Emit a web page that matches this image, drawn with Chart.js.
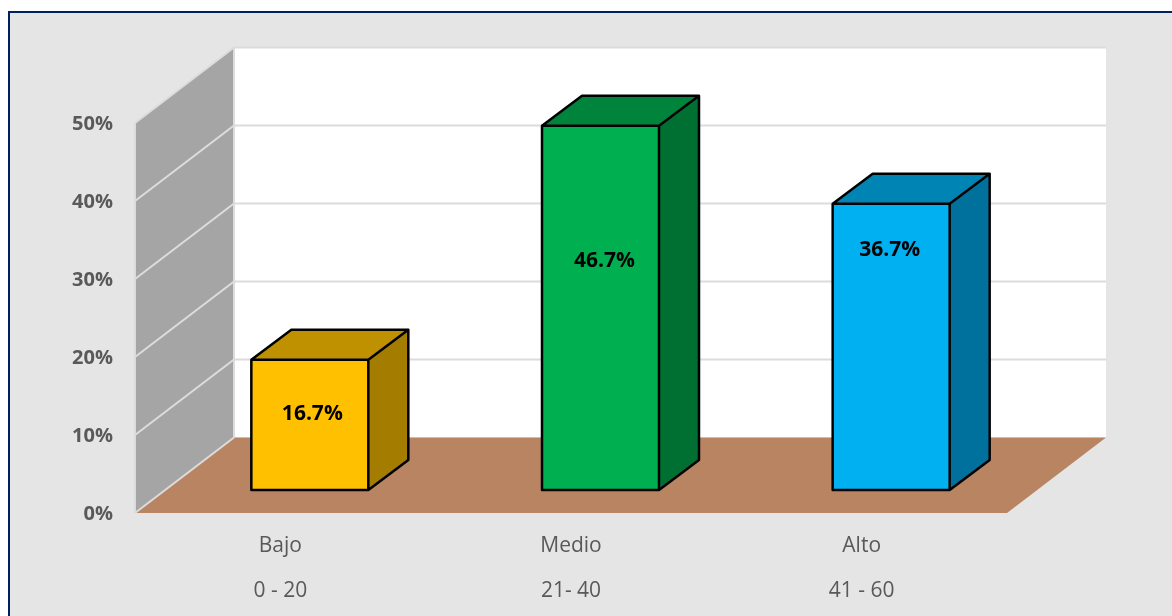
<!DOCTYPE html>
<html>
<head>
<meta charset="utf-8">
<script src="https://cdn.jsdelivr.net/npm/chart.js@4"></script>
<style>
  html, body { margin: 0; padding: 0; background: #fff; overflow: hidden; }
  #panel { position: absolute; left: 8px; top: 11px; width: 1200px; height: 700px; background: #e5e5e5; border-left: 2px solid #002060; border-top: 2px solid #002060; }
  #wrap { position: absolute; left: 0; top: 0; width: 1172px; height: 616px; }
</style>
</head>
<body>
<div id="panel"></div>
<div id="wrap"><canvas id="chart"></canvas></div>
<script>
// ===============data=================//
const levels = ["Bajo", "Medio", "Alto"];
const ranges = ["0 - 20", "21- 40", "41 - 60"];
const percents = [16.7, 46.7, 36.7];
const axisTicks = [0, 10, 20, 30, 40, 50];

const faceColors = ["#ffc000", "#00b050", "#00b0f0"];
const topColors = ["#bf9000", "#00843c", "#0084b4"];
const sideColors = ["#a37c00", "#006f32", "#00709c"];

// ===============3d look=================//
const wallDepth = { x: 99, y: -75.5 }; // front plane to back wall
const barShift = { x: 30, y: -23 };    // bars stand inside the floor
const barDepth = { x: 40, y: -30 };
const labelLift = [-11, -47, -97];     // data labels are not centred on the bars
const labelSlide = [2.5, 4, -1.5];

function fillPoly(ctx, pts, color) {
  ctx.beginPath();
  pts.forEach((p, i) => i ? ctx.lineTo(p[0], p[1]) : ctx.moveTo(p[0], p[1]));
  ctx.closePath();
  ctx.fillStyle = color;
  ctx.fill();
}

const room = {
  id: "room",
  beforeDatasetsDraw(chart) {
    const { ctx, chartArea: a, scales: { y } } = chart;
    const d = wallDepth;
    const base = y.getPixelForValue(0);
    const topY = y.getPixelForValue(50);

    ctx.save();
    // back wall
    fillPoly(ctx, [[a.left + d.x, topY + d.y], [a.right + d.x, topY + d.y], [a.right + d.x, base + d.y], [a.left + d.x, base + d.y]], "#ffffff");
    // side wall
    fillPoly(ctx, [[a.left, topY], [a.left + d.x, topY + d.y], [a.left + d.x, base + d.y], [a.left, base]], "#a5a5a5");
    // floor
    fillPoly(ctx, [[a.left, base], [a.right, base], [a.right + d.x, base + d.y], [a.left + d.x, base + d.y]], "#b88462");

    // grid lines, both walls
    ctx.strokeStyle = "#dcdcdc";
    ctx.lineWidth = 2;
    axisTicks.forEach(t => {
      const py = y.getPixelForValue(t);
      ctx.beginPath();
      ctx.moveTo(a.left, py);
      ctx.lineTo(a.left + d.x, py + d.y);
      if (t > 0) ctx.lineTo(a.right + d.x, py + d.y);
      ctx.stroke();
    });
    ctx.beginPath();
    ctx.moveTo(a.left, topY);
    ctx.lineTo(a.left, base);
    ctx.moveTo(a.left + d.x, topY + d.y);
    ctx.lineTo(a.left + d.x, base + d.y);
    ctx.stroke();
    ctx.restore();

    // bars get drawn by the library, moved back into the room
    ctx.save();
    ctx.translate(barShift.x, barShift.y);
  },
  afterDatasetsDraw(chart) {
    const { ctx } = chart;
    ctx.restore();

    const bars = chart.getDatasetMeta(0).data;
    bars.forEach((bar, i) => {
      const left = bar.x - bar.width / 2 + barShift.x - 0.5;
      const right = bar.x + bar.width / 2 + barShift.x - 0.5;
      const top = bar.y + barShift.y;
      const bottom = bar.base + barShift.y;
      const dx = barDepth.x, dy = barDepth.y;

      ctx.save();
      fillPoly(ctx, [[left, top], [right, top], [right + dx, top + dy], [left + dx, top + dy]], topColors[i]);
      fillPoly(ctx, [[right, top], [right + dx, top + dy], [right + dx, bottom + dy], [right, bottom]], sideColors[i]);
      ctx.strokeStyle = "#000";
      ctx.lineWidth = 2.5;
      ctx.lineJoin = "round";
      ctx.beginPath();
      ctx.rect(left, top, right - left, bottom - top);
      ctx.moveTo(left, top);
      ctx.lineTo(left + dx, top + dy);
      ctx.lineTo(right + dx, top + dy);
      ctx.lineTo(right + dx, bottom + dy);
      ctx.lineTo(right, bottom);
      ctx.moveTo(right, top);
      ctx.lineTo(right + dx, top + dy);
      ctx.stroke();

      // data label
      ctx.fillStyle = "#000";
      ctx.font = "bold 21px 'Open Sans'";
      ctx.textAlign = "center";
      ctx.textBaseline = "middle";
      const cx = (left + right) / 2 + labelSlide[i];
      ctx.fillText(percents[i].toFixed(1) + "%", cx, (top + bottom) / 2 + labelLift[i]);
      ctx.restore();
    });
  }
};

const chart = new Chart(document.getElementById("chart"), {
  type: "bar",
  data: {
    labels: levels.map((l, i) => [l, ranges[i]]),
    datasets: [{
      data: percents,
      backgroundColor: faceColors,
      borderWidth: 0,
      barPercentage: 0.4025,
      categoryPercentage: 1,
      clip: false
    }]
  },
  options: {
    responsive: true,
    maintainAspectRatio: false,
    animation: false,
    events: [],
    layout: { padding: { left: 0, right: 165, top: 123, bottom: 0 } },
    plugins: { legend: { display: false }, title: { display: false }, tooltip: { enabled: false } },
    scales: {
      x: {
        grid: { display: false },
        border: { display: false },
        afterFit(scale) { scale.height = 103; },
        ticks: {
          color: "#595959",
          padding: 3,
          maxRotation: 0,
          font: { family: "'Open Sans'", size: 21, lineHeight: 2.14 }
        }
      },
      y: {
        min: 0,
        max: 50,
        grid: { display: false, drawTicks: false },
        border: { display: false },
        afterFit(scale) { scale.width = 135; },
        afterBuildTicks(scale) { scale.ticks = axisTicks.map(v => ({ value: v })); },
        ticks: {
          color: "#595959",
          padding: 22,
          labelOffset: 1,
          font: { family: "'Open Sans'", size: 20, weight: "bold" },
          callback: v => v + "%"
        }
      }
    }
  },
  plugins: [room]
});
</script>
</body>
</html>
